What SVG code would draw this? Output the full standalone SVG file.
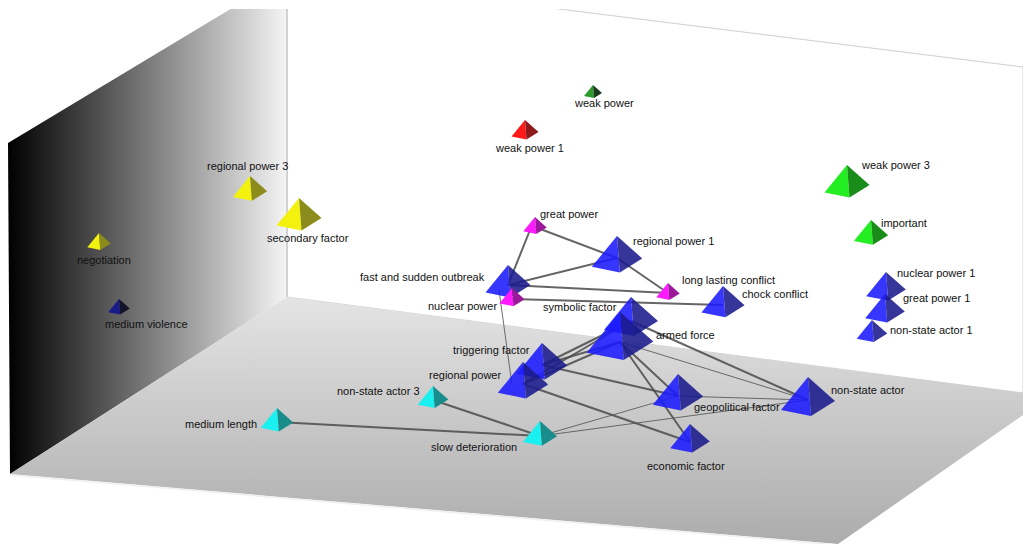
<svg xmlns="http://www.w3.org/2000/svg" xmlns:xlink="http://www.w3.org/1999/xlink" width="1023" height="544" viewBox="0 0 1023 544">
<style>
text{font-family:"Liberation Sans",Arial,Helvetica,sans-serif;font-size:11px;fill:#111}
.e{stroke:#4a4a4a;stroke-width:2;stroke-opacity:.85;fill:none}
.t{stroke:#555;stroke-width:1;stroke-opacity:.85;fill:none}
.blue .L{fill:#1a1aff;opacity:.88}.blue .R{fill:#1a1a8c;opacity:.88}
.yel .L{fill:#f2f20e}.yel .R{fill:#8c8c1c}
.mag .L{fill:#ff1aff}.mag .R{fill:#9b1a9b}
.cya .L{fill:#1af0f0}.cya .R{fill:#1a8c8c}
.grn .L{fill:#22ee22}.grn .R{fill:#1a8c1a}
.red .L{fill:#ff1a1a}.red .R{fill:#8c1a1a}
.dgr .L{fill:#2a9a2a}.dgr .R{fill:#1a3a1a}
.nav .L{fill:#1a1a8c}.nav .R{fill:#141428}
</style>
<defs>
<linearGradient id="wall" x1="8" y1="0" x2="287" y2="0" gradientUnits="userSpaceOnUse">
<stop offset="0" stop-color="#000"/><stop offset="1" stop-color="#f4f4f4"/>
</linearGradient>
<linearGradient id="floor" x1="0" y1="297" x2="0" y2="544" gradientUnits="userSpaceOnUse">
<stop offset="0" stop-color="#e4e4e4"/><stop offset="1" stop-color="#acacac"/>
</linearGradient>
<clipPath id="vp"><rect x="0" y="9" width="1023" height="535"/></clipPath>
<polygon id="fl" points="0,0 -0.9,1.1 0.1,1.3"/>
<polygon id="fr" points="0,0 0.1,1.3 0.9,0.8"/>
</defs>
<rect width="1023" height="544" fill="#fff"/>
<g id="room" clip-path="url(#vp)">
<polygon points="287,-25 1023,67 1023,393 287,297" fill="#fff" stroke="#cfcfcf" stroke-width="1"/>
<polygon points="8,143 287,-25 287,297 10,474" fill="url(#wall)"/>
<line x1="287" y1="0" x2="287" y2="297" stroke="#c8c8c8" stroke-width="1.5"/>
<polygon points="287,297 1023,393 1023,415 838,544 10,474" fill="url(#floor)"/>
<line x1="10" y1="475" x2="838" y2="545" stroke="#f0f0f0" stroke-width="1.5"/>
</g>
<g id="connectors">
<line class="e" x1="535" y1="227" x2="617" y2="258"/>
<line class="e" x1="530" y1="230" x2="508" y2="285"/>
<line class="e" x1="508" y1="285" x2="617" y2="258"/>
<line class="e" x1="508" y1="285" x2="668" y2="293"/>
<line class="e" x1="512" y1="299" x2="723" y2="305"/>
<line class="e" x1="617" y1="258" x2="668" y2="293"/>
<line class="t" x1="499" y1="290" x2="512" y2="385"/>
<line class="e" x1="631" y1="321" x2="542" y2="365"/>
<line class="e" x1="631" y1="321" x2="523" y2="384"/>
<line class="e" x1="620" y1="342" x2="542" y2="365"/>
<line class="e" x1="620" y1="342" x2="523" y2="384"/>
<line class="e" x1="620" y1="342" x2="678" y2="396"/>
<line class="e" x1="620" y1="342" x2="690" y2="442"/>
<line class="e" x1="631" y1="321" x2="808" y2="400"/>
<line class="t" x1="620" y1="342" x2="808" y2="400"/>
<line class="e" x1="542" y1="365" x2="678" y2="396"/>
<line class="e" x1="523" y1="384" x2="690" y2="442"/>
<line class="t" x1="540" y1="436" x2="678" y2="396"/>
<line class="t" x1="540" y1="436" x2="808" y2="400"/>
<line class="e" x1="277" y1="422" x2="540" y2="436"/>
<line class="e" x1="433" y1="400" x2="540" y2="436"/>
<line class="t" x1="678" y1="396" x2="808" y2="400"/>
</g>
<g id="n_negotiation" class="yel"><g transform="translate(99,233) scale(13)"><use href="#fl" class="L"/><use href="#fr" class="R"/></g><text x="77" y="264">negotiation</text></g>
<g id="n_medium_violence" class="nav"><g transform="translate(119,299) scale(12)"><use href="#fl" class="L"/><use href="#fr" class="R"/></g><text x="105" y="328">medium violence</text></g>
<g id="n_regional_power_3" class="yel"><g transform="translate(250,176) scale(19)"><use href="#fl" class="L"/><use href="#fr" class="R"/></g><text x="207" y="170">regional power 3</text></g>
<g id="n_secondary_factor" class="yel"><g transform="translate(299,198) scale(25)"><use href="#fl" class="L"/><use href="#fr" class="R"/></g><text x="267" y="242">secondary factor</text></g>
<g id="n_weak_power" class="dgr"><g transform="translate(593,85) scale(10)"><use href="#fl" class="L"/><use href="#fr" class="R"/></g><text x="575" y="107">weak power</text></g>
<g id="n_weak_power_1" class="red"><g transform="translate(525,120) scale(15)"><use href="#fl" class="L"/><use href="#fr" class="R"/></g><text x="496" y="152">weak power 1</text></g>
<g id="n_weak_power_3" class="grn"><g transform="translate(847,165) scale(25)"><use href="#fl" class="L"/><use href="#fr" class="R"/></g><text x="862" y="169">weak power 3</text></g>
<g id="n_important" class="grn"><g transform="translate(871,220) scale(19)"><use href="#fl" class="L"/><use href="#fr" class="R"/></g><text x="881" y="227">important</text></g>
<g id="n_great_power" class="mag"><g transform="translate(535,217) scale(13)"><use href="#fl" class="L"/><use href="#fr" class="R"/></g><text x="540" y="218">great power</text></g>
<g id="n_regional_power_1" class="blue"><g transform="translate(617,236) scale(28)"><use href="#fl" class="L"/><use href="#fr" class="R"/></g><text x="633" y="245">regional power 1</text></g>
<g id="n_fast_and_sudden_outbreak" class="blue"><g transform="translate(508,265) scale(25)"><use href="#fl" class="L"/><use href="#fr" class="R"/></g><text x="360" y="281">fast and sudden outbreak</text></g>
<g id="n_nuclear_power" class="mag"><g transform="translate(512,288) scale(14)"><use href="#fl" class="L"/><use href="#fr" class="R"/></g><text x="428" y="310">nuclear power</text></g>
<g id="n_long_lasting_conflict" class="mag"><g transform="translate(668,283) scale(13)"><use href="#fl" class="L"/><use href="#fr" class="R"/></g><text x="682" y="284">long lasting conflict</text></g>
<g id="n_chock_conflict" class="blue"><g transform="translate(723,286) scale(24)"><use href="#fl" class="L"/><use href="#fr" class="R"/></g><text x="742" y="298">chock conflict</text></g>
<g id="n_nuclear_power_1" class="blue"><g transform="translate(886,272) scale(22)"><use href="#fl" class="L"/><use href="#fr" class="R"/></g><text x="897" y="277">nuclear power 1</text></g>
<g id="n_great_power_1" class="blue"><g transform="translate(885,294) scale(22)"><use href="#fl" class="L"/><use href="#fr" class="R"/></g><text x="903" y="302">great power 1</text></g>
<g id="n_non_state_actor_1" class="blue"><g transform="translate(872,320) scale(17)"><use href="#fl" class="L"/><use href="#fr" class="R"/></g><text x="890" y="334">non-state actor 1</text></g>
<g id="n_symbolic_factor" class="blue"><g transform="translate(631,297) scale(30)"><use href="#fl" class="L"/><use href="#fr" class="R"/></g><text x="543" y="311">symbolic factor</text></g>
<g id="n_armed_force" class="blue"><g transform="translate(620,312) scale(37)"><use href="#fl" class="L"/><use href="#fr" class="R"/></g><text x="656" y="339">armed force</text></g>
<g id="n_triggering_factor" class="blue"><g transform="translate(542,343) scale(28)"><use href="#fl" class="L"/><use href="#fr" class="R"/></g><text x="453" y="354">triggering factor</text></g>
<g id="n_regional_power" class="blue"><g transform="translate(523,362) scale(28)"><use href="#fl" class="L"/><use href="#fr" class="R"/></g><text x="429" y="379">regional power</text></g>
<g id="n_non_state_actor_3" class="cya"><g transform="translate(433,386) scale(17)"><use href="#fl" class="L"/><use href="#fr" class="R"/></g><text x="337" y="395">non-state actor 3</text></g>
<g id="n_medium_length" class="cya"><g transform="translate(277,408) scale(18)"><use href="#fl" class="L"/><use href="#fr" class="R"/></g><text x="185" y="428">medium length</text></g>
<g id="n_slow_deterioration" class="cya"><g transform="translate(540,421) scale(19)"><use href="#fl" class="L"/><use href="#fr" class="R"/></g><text x="431" y="451">slow deterioration</text></g>
<g id="n_geopolitical_factor" class="blue"><g transform="translate(678,374) scale(28)"><use href="#fl" class="L"/><use href="#fr" class="R"/></g><text x="694" y="411">geopolitical factor</text></g>
<g id="n_non_state_actor" class="blue"><g transform="translate(808,377) scale(30)"><use href="#fl" class="L"/><use href="#fr" class="R"/></g><text x="831" y="394">non-state actor</text></g>
<g id="n_economic_factor" class="blue"><g transform="translate(690,424) scale(22)"><use href="#fl" class="L"/><use href="#fr" class="R"/></g><text x="647" y="470">economic factor</text></g>
</svg>
